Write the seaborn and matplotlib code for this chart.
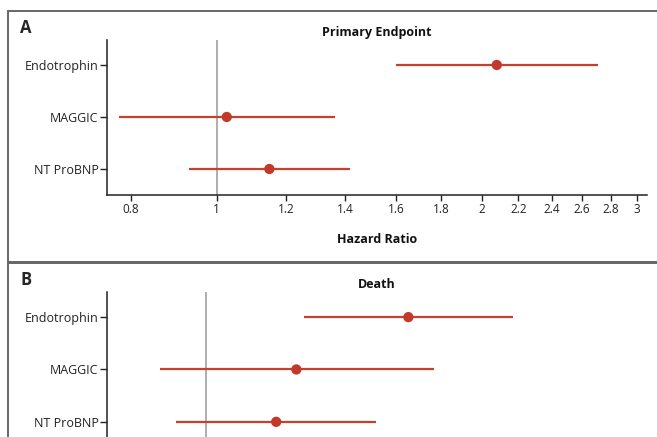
import numpy as np
import pandas as pd
import matplotlib
matplotlib.use("Agg")
import matplotlib.pyplot as plt
from matplotlib.patches import Rectangle
from matplotlib.ticker import FixedLocator, FixedFormatter, NullLocator
import seaborn as sns

# ---- data ----
markers = ["Endotrophin", "MAGGIC", "NT ProBNP"]
primary_hr = [2.08, 1.027, 1.148]
primary_lo = [1.60, 0.775, 0.931]
primary_hi = [2.71, 1.363, 1.418]
death_hr = [1.80, 1.30, 1.226]
death_lo = [1.33, 0.875, 0.916]
death_hi = [2.44, 1.94, 1.64]
xticks = [0.8, 1, 1.2, 1.4, 1.6, 1.8, 2, 2.2, 2.4, 2.6, 2.8, 3]
xtick_labels = ["0.8", "1", "1.2", "1.4", "1.6", "1.8", "2", "2.2", "2.4", "2.6", "2.8", "3"]

sns.set_theme(style="white")
plt.rcParams['font.family'] = ['Open Sans', 'DejaVu Sans']

RED = "#c8402c"
DOT = "#c0392b"
GRAY = "#a8a8a8"
W, H = 657, 437
fig = plt.figure(figsize=(W / 100, H / 100), dpi=100)
fig.patch.set_facecolor("white")


def ax_rect(x0, x1, ytop, ybot):
    return [x0 / W, 1 - ybot / H, (x1 - x0) / W, (ybot - ytop) / H]


def panel(ax, hr, lo, hi, title, xlim, show_x):
    df = pd.DataFrame({"marker": markers, "hr": hr, "lo": lo, "hi": hi})
    ypos = np.arange(len(markers))
    ax.set_xscale("log")
    ax.axvline(1, color=GRAY, lw=1.3, zorder=1)
    ax.hlines(ypos, df["lo"], df["hi"], color=RED, lw=1.6, zorder=2)
    sns.scatterplot(x=df["hr"], y=ypos, ax=ax, color=DOT, s=55,
                    edgecolor="none", zorder=3, legend=False)
    ax.set_ylim(2.5, -0.48)
    ax.set_xlim(*xlim)
    ax.set_yticks(ypos)
    ax.set_yticklabels(markers, fontsize=9, color="#222222")
    for s in ["top", "right"]:
        ax.spines[s].set_visible(False)
    for s in ["left", "bottom"]:
        ax.spines[s].set_color("#222222")
        ax.spines[s].set_linewidth(1.1)
    ax.tick_params(axis="y", left=True, length=5, width=1, color="#222222", pad=1)
    ax.xaxis.set_minor_locator(NullLocator())
    if show_x:
        ax.xaxis.set_major_locator(FixedLocator(xticks))
        ax.xaxis.set_major_formatter(FixedFormatter(xtick_labels))
        ax.tick_params(axis="x", bottom=True, length=4, width=1, color="#222222",
                       labelsize=8.5, labelcolor="#222222", pad=2)
    else:
        ax.xaxis.set_major_locator(NullLocator())
        ax.tick_params(axis="x", bottom=False, labelbottom=False)
    ax.set_xlabel("")
    ax.set_ylabel("")
    ax.set_title(title, fontsize=9, fontweight="bold", pad=3, color="#111111")
    ax.set_facecolor("none")


axA = fig.add_axes(ax_rect(107, 647, 40, 195))
panel(axA, primary_hr, primary_lo, primary_hi, "Primary Endpoint", (0.751, 3.08), True)
axA.set_xlabel("Hazard Ratio", fontsize=9, fontweight="bold", labelpad=12, color="#111111")

axB = fig.add_axes(ax_rect(107, 647, 292, 448))
panel(axB, death_hr, death_lo, death_hi, "Death", (0.75, 3.6), False)

# panel frames
fig.add_artist(Rectangle((8 / W, 1 - 262 / H), (W + 10 - 8) / W, (262 - 10.5) / H,
                         transform=fig.transFigure, fill=False, ec="#666666", lw=1.4))
fig.add_artist(Rectangle((8 / W, 1 - 470 / H), (W + 10 - 8) / W, (470 - 262.5) / H,
                         transform=fig.transFigure, fill=False, ec="#666666", lw=1.4))
fig.text(20 / W, 1 - 28 / H, "A", fontsize=12, fontweight="bold", va="center", ha="left")
fig.text(20 / W, 1 - 280 / H, "B", fontsize=12, fontweight="bold", va="center", ha="left")

fig.savefig("out.png", dpi=100)
